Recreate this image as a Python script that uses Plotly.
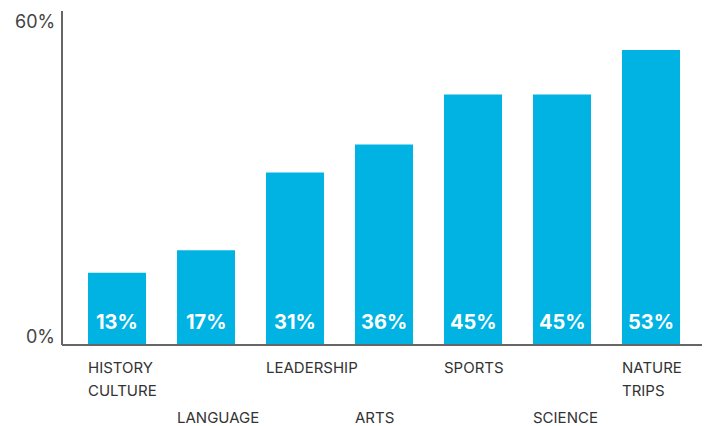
import plotly.graph_objects as go

categories = ["HISTORY\nCULTURE", "LANGUAGE", "LEADERSHIP", "ARTS", "SPORTS", "SCIENCE", "NATURE\nTRIPS"]
values = [13, 17, 31, 36, 45, 45, 53]
y_ticks = [0, 60]
y_tick_labels = ["0%", "60%"]

BAR_COLOR = "#00B3E3"
FONT = "Inter"
BAR_W = 0.652

x = list(range(len(categories)))
fig = go.Figure()
fig.add_trace(go.Bar(x=x, y=values, width=BAR_W, marker=dict(color=BAR_COLOR, line=dict(width=0)),
                     hoverinfo="skip"))

ann = []
for i, (c, v) in enumerate(zip(categories, values)):
    ann.append(dict(x=i, y=0, xref="x", yref="y", text=f"<b>{v}%</b>", showarrow=False,
                    xanchor="center", yanchor="bottom", yshift=9,
                    font=dict(family=FONT, size=20, color="white")))
    lines = c.split("\n")
    base = -11 if i % 2 == 0 else -61
    for k, ln in enumerate(lines):
        ann.append(dict(x=i - BAR_W / 2, y=0, xref="x", yref="y", text=ln, showarrow=False,
                        xanchor="left", yanchor="top", yshift=base - 23 * k, xshift=-2,
                        font=dict(family=FONT, size=15, color="#333333")))

for t, lab in zip(y_ticks, y_tick_labels):
    ann.append(dict(x=0, y=t, xref="paper", yref="y", text=lab, showarrow=False,
                    xanchor="right", xshift=-5,
                    yanchor="bottom" if t == 0 else "top",
                    yshift=-4 if t == 0 else 2,
                    font=dict(family=FONT, size=18, color="#444444")))

shapes = [
    dict(type="line", xref="paper", yref="paper", x0=0, x1=0, y0=0, y1=1,
         line=dict(color="#333333", width=1.5)),
    dict(type="line", xref="paper", yref="paper", x0=0, x1=1, y0=0, y1=0,
         line=dict(color="#666666", width=2)),
]

fig.update_layout(
    width=702, height=418,
    margin=dict(l=54, r=8, t=3, b=81),
    plot_bgcolor="white", paper_bgcolor="white",
    showlegend=False,
    xaxis=dict(range=[-0.618, 6.573], showticklabels=False, showgrid=False, zeroline=False,
               showline=False, ticks=""),
    yaxis=dict(range=[0, 60], showticklabels=False, showgrid=False, zeroline=False,
               showline=False, ticks=""),
    annotations=ann, shapes=shapes,
)
fig.write_html("out.html")
